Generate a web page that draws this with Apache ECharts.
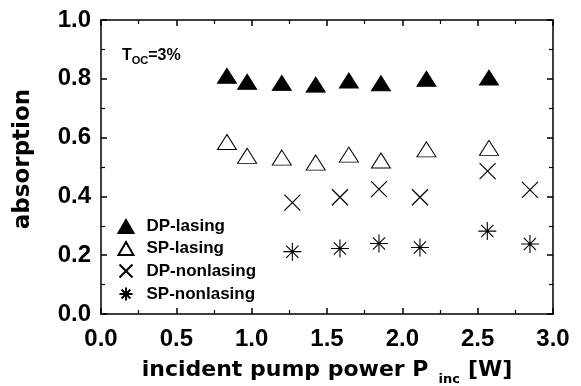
<!DOCTYPE html>
<html><head><meta charset="utf-8">
<script src="https://cdn.jsdelivr.net/npm/echarts@6/dist/echarts.min.js"></script>
<style>html,body{margin:0;padding:0;background:#fff}#c{width:581px;height:386px}</style>
</head><body><div id="c"></div>
<script>
const dpLasingX = [0.836, 0.97, 1.20, 1.425, 1.645, 1.858, 2.16, 2.575];
const dpLasingY = [0.81, 0.79, 0.786, 0.78, 0.794, 0.785, 0.80, 0.804];
const spLasingX = [0.836, 0.97, 1.20, 1.425, 1.645, 1.858, 2.16, 2.575];
const spLasingY = [0.585, 0.538, 0.532, 0.515, 0.542, 0.522, 0.56, 0.565];
const dpNonX = [1.27, 1.586, 1.845, 2.117, 2.566, 2.847];
const dpNonY = [0.379, 0.397, 0.425, 0.397, 0.486, 0.422];
const spNonX = [1.27, 1.586, 1.845, 2.117, 2.564, 2.847];
const spNonY = [0.212, 0.223, 0.24, 0.226, 0.282, 0.238];
const seriesNames = ['DP-lasing', 'SP-lasing', 'DP-nonlasing', 'SP-nonlasing'];
const xTicks = ['0.0','0.5','1.0','1.5','2.0','2.5','3.0'];

const pair = (xs, ys) => xs.map((x, i) => [x, ys[i]]);
const FONT = 'Liberation Sans, Arial, sans-serif';
const WIDE = 'DejaVu Sans, sans-serif';
const crossPath = 'path://M0,0L10,10M10,0L0,10';
const starPath = 'path://M5,0L5,10M0,5L10,5M1.6,1.6L8.4,8.4M8.4,1.6L1.6,8.4';

const chart = echarts.init(document.getElementById('c'), null, {renderer: 'canvas'});
const axisCommon = () => ({
  axisLine: {show: true, onZero: false, lineStyle: {color: '#000', width: 1.5}},
  axisTick: {show: true, inside: true, length: 6, lineStyle: {color: '#000', width: 1.5}},
  minorTick: {show: true, splitNumber: 2, length: 4, lineStyle: {color: '#000', width: 1.2}},
  splitLine: {show: false}
});
chart.setOption({
  animation: false,
  backgroundColor: '#fff',
  grid: {left: 101, right: 28, top: 20, bottom: 72, containLabel: false, outerBoundsMode: 'none'},
  textStyle: {fontFamily: FONT},
  xAxis: [
    Object.assign({
      type: 'value', min: 0, max: 3, interval: 0.5, position: 'bottom',
      axisLabel: {formatter: v => xTicks[Math.round(v / 0.5)], color: '#000', fontSize: 24, fontWeight: 'bold', fontFamily: FONT, margin: 13},
      name: 'incident pump power P{sub|inc}[W]', nameLocation: 'middle', nameGap: 41,
      nameTextStyle: {color: '#000', fontSize: 22, fontWeight: 'bold', fontFamily: WIDE,
        rich: {sub: {fontSize: 13, fontWeight: 'bold', fontFamily: WIDE, color: '#000', padding: [18, 8, 0, 10], verticalAlign: 'bottom'}}}
    }, axisCommon()),
    Object.assign({
      type: 'value', min: 0, max: 3, interval: 0.5, position: 'top', axisLabel: {show: false}
    }, axisCommon())
  ],
  yAxis: [
    Object.assign({
      type: 'value', min: 0, max: 1, interval: 0.2, position: 'left',
      axisLabel: {formatter: v => v.toFixed(1), color: '#000', fontSize: 24, fontWeight: 'bold', fontFamily: FONT, margin: 10},
      name: 'absorption', nameLocation: 'middle', nameGap: 66, nameRotate: 90,
      nameTextStyle: {color: '#000', fontSize: 23, fontWeight: 'bold', fontFamily: WIDE, padding: [0, 0, 0, 16]}
    }, axisCommon()),
    Object.assign({
      type: 'value', min: 0, max: 1, interval: 0.2, position: 'right', axisLabel: {show: false}
    }, axisCommon())
  ],
  legend: {
    orient: 'vertical', left: 112, top: 213, itemGap: 5, itemWidth: 15, itemHeight: 13,
    data: seriesNames,
    textStyle: {color: '#000', fontSize: 17, fontWeight: 'bold', fontFamily: FONT, padding: [0, 0, 0, 8]}
  },
  graphic: [{
    type: 'text', left: 122, top: 48,
    style: {
      text: 'T{sub|OC}=3%', fill: '#000', font: 'bold 16px ' + FONT,
      rich: {sub: {fontSize: 11, fontWeight: 'bold', fontFamily: FONT, fill: '#000', padding: [9, 0, 0, 0], verticalAlign: 'bottom'}}
    }
  }],
  series: [
    {name: seriesNames[0], type: 'scatter', data: pair(dpLasingX, dpLasingY), symbol: 'triangle', symbolSize: [19, 15],
     itemStyle: {color: '#000', borderColor: '#000', borderWidth: 1, opacity: 1}},
    {name: seriesNames[1], type: 'scatter', data: pair(spLasingX, spLasingY), symbol: 'triangle', symbolSize: [19, 15],
     itemStyle: {color: '#fff', borderColor: '#000', borderWidth: 1, opacity: 1}},
    {name: seriesNames[2], type: 'scatter', data: pair(dpNonX, dpNonY), symbol: crossPath, symbolSize: 16,
     itemStyle: {color: 'none', borderColor: '#000', borderWidth: 1.2, opacity: 1}},
    {name: seriesNames[3], type: 'scatter', data: pair(spNonX, spNonY), symbol: starPath, symbolSize: 18,
     itemStyle: {color: 'none', borderColor: '#000', borderWidth: 1.1, opacity: 1}}
  ]
});
</script></body></html>
